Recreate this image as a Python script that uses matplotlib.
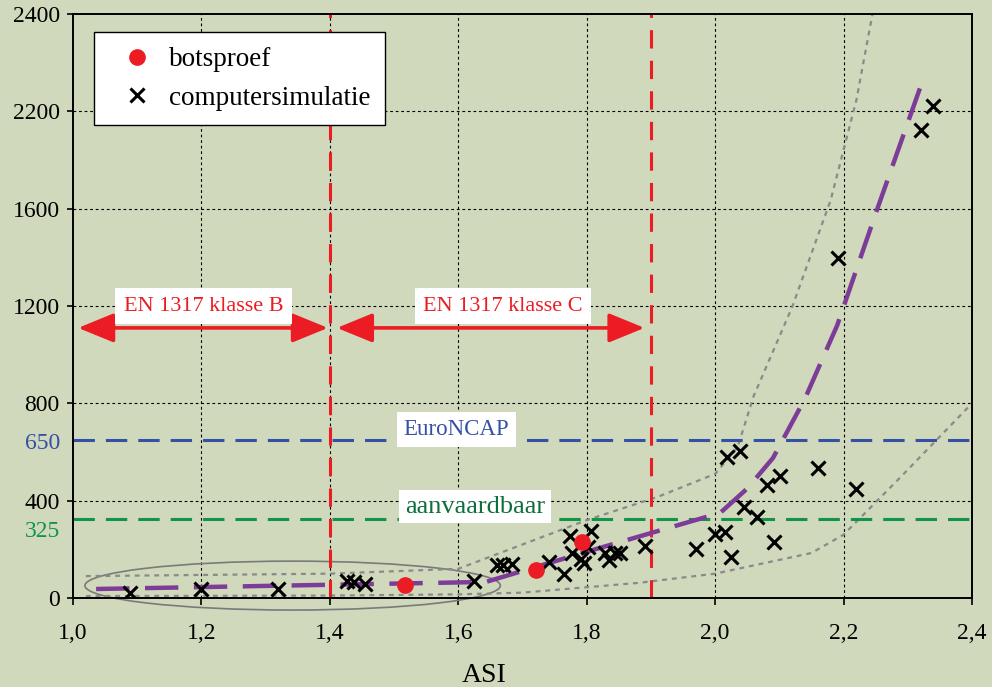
import matplotlib
matplotlib.use("Agg")
import matplotlib.pyplot as plt
from matplotlib.patches import Ellipse

# computersimulatie (crosses)
sim_x = [1.089, 1.199, 1.319, 1.426, 1.438, 1.455, 1.624, 1.660, 1.670, 1.684,
         1.742, 1.764, 1.774, 1.777, 1.791, 1.795, 1.802, 1.807, 1.829, 1.834,
         1.844, 1.852, 1.890, 1.970, 2.000, 2.016, 2.024, 2.019, 2.039, 2.045,
         2.065, 2.081, 2.101, 2.091, 2.160, 2.219, 2.192, 2.321, 2.340]
sim_y = [21, 37, 37, 70, 66, 58, 70, 136, 136, 140,
         148, 99, 255, 185, 160, 144, 210, 275, 185, 156,
         185, 185, 214, 201, 263, 271, 169, 580, 604, 374,
         333, 464, 501, 230, 534, 448, 1397, 1923, 2022]

# botsproef (red dots)
bot_x = [1.517, 1.721, 1.793]
bot_y = [53, 115, 230]

# trend line (purple dashed)
trend_x = [1.036, 1.643, 1.80, 2.008, 2.05, 2.09, 2.14, 2.19, 2.25, 2.325]
trend_y = [37, 66, 190, 350, 450, 575, 820, 1120, 1580, 2140]

# spread envelope (gray dotted)
upper_x = [1.02, 1.40, 1.60, 1.80, 1.91, 2.00, 2.035, 2.06, 2.12, 2.18, 2.22, 2.245]
upper_y = [90, 100, 120, 320, 415, 510, 620, 830, 1196, 1636, 2047, 2400]
lower_x = [1.02, 1.40, 1.60, 1.70, 1.88, 2.00, 2.15, 2.20, 2.29, 2.40]
lower_y = [8, 10, 15, 22, 62, 100, 185, 260, 500, 800]

x_ticks = [1.0, 1.2, 1.4, 1.6, 1.8, 2.0, 2.2, 2.4]
x_labels = ['1,0', '1,2', '1,4', '1,6', '1,8', '2,0', '2,2', '2,4']
y_ticks = [0, 400, 800, 1200, 1600, 2000, 2400]
y_labels = ['0', '400', '800', '1200', '1600', '2200', '2400']

klasse_limits = [1.4, 1.9]
euroncap = 650
aanvaardbaar = 325

bg = '#d0d9bb'
red = '#ec1c24'
blue = '#3551a4'
green = '#119449'
purple = '#7d3c98'
gray = '#8a8a8a'

plt.rcParams['font.family'] = ['Liberation Serif', 'DejaVu Serif']

fig = plt.figure(figsize=(9.92, 6.87), dpi=100)
fig.patch.set_facecolor(bg)
ax = fig.add_axes([73 / 992, 89 / 687, 899 / 992, 584 / 687])
ax.set_facecolor(bg)

ax.set_xlim(1.0, 2.4)
ax.set_ylim(0, 2400)

# grid
for gx in x_ticks[1:-1]:
    ax.axvline(gx, color='black', lw=0.8, ls=(0, (2.5, 2.5)), zorder=1)
for gy in y_ticks[1:-1]:
    ax.axhline(gy, color='black', lw=0.8, ls=(0, (2.5, 2.5)), zorder=1)

# ellipse around low-ASI region
ell = Ellipse((1.342, 51), 0.647, 201, fill=False, edgecolor='#7a7a7a',
              lw=1.2, zorder=2, clip_on=False)
ax.add_patch(ell)

ax.plot(upper_x, upper_y, color=gray, lw=1.6, ls=(0, (2.2, 2.2)), zorder=2)
ax.plot(lower_x, lower_y, color=gray, lw=1.6, ls=(0, (2.2, 2.2)), zorder=2)

# limit lines
ax.axhline(euroncap, color=blue, lw=2.2, dashes=(7, 3.6), zorder=3)
ax.axhline(aanvaardbaar, color=green, lw=2.2, dashes=(7, 3.6), zorder=3)
for lx in klasse_limits:
    ax.axvline(lx, color=red, lw=2.2, dashes=(6, 4), zorder=3)

ax.plot(trend_x, trend_y, color=purple, lw=3.2, dashes=(7.5, 3.5), zorder=4)

ax.plot(sim_x, sim_y, ls='none', marker='x', ms=10, mew=2.2, color='black',
        zorder=5, label='computersimulatie')
ax.plot(bot_x, bot_y, ls='none', marker='o', ms=11, color=red, mec=red,
        zorder=6, label='botsproef')

# klasse arrows
arrow_kw = dict(arrowstyle='<|-|>,head_length=1.1,head_width=0.45',
                color=red, lw=2.6, mutation_scale=20, shrinkA=0, shrinkB=0)
ax.annotate('', xy=(1.008, 1110), xytext=(1.397, 1110), arrowprops=arrow_kw, zorder=6)
ax.annotate('', xy=(1.411, 1110), xytext=(1.890, 1110), arrowprops=arrow_kw, zorder=6)

box_kw = dict(facecolor='white', edgecolor='none', pad=6)
ax.text(1.203, 1200, 'EN 1317 klasse B', color=red, fontsize=16,
        ha='center', va='center', bbox=box_kw, zorder=7)
ax.text(1.67, 1200, 'EN 1317 klasse C', color=red, fontsize=16,
        ha='center', va='center', bbox=box_kw, zorder=7)
ax.text(1.597, 692, 'EuroNCAP', color=blue, fontsize=16.5,
        ha='center', va='center', bbox=dict(facecolor='white', edgecolor='none', pad=5), zorder=7)
ax.text(1.626, 376, 'aanvaardbaar', color='#0e6e3e', fontsize=19,
        ha='center', va='center', bbox=dict(facecolor='white', edgecolor='none', pad=4), zorder=7)

# extra y labels
ax.text(-0.0145, 635, '650', color=blue, fontsize=17, ha='right', va='center',
        transform=ax.get_yaxis_transform())
ax.text(-0.0145, 275, '325', color=green, fontsize=17, ha='right', va='center',
        transform=ax.get_yaxis_transform())

ax.set_xticks(x_ticks)
ax.set_xticklabels(x_labels)
ax.set_yticks(y_ticks)
ax.set_yticklabels(y_labels)
ax.tick_params(axis='y', length=4.5, width=1.2, pad=5, labelsize=17)
ax.tick_params(axis='x', length=5, width=1.2, pad=13, labelsize=17)
for s in ax.spines.values():
    s.set_linewidth(1.4)
    s.set_zorder(8)

ax.set_xlabel('ASI', fontsize=20)
ax.xaxis.set_label_coords(0.457, -0.112)

handles, labels = ax.get_legend_handles_labels()
leg = ax.legend(handles[::-1], labels[::-1], loc='upper left',
                bbox_to_anchor=(0.0234, 0.969), fontsize=19.5, frameon=True,
                fancybox=False, framealpha=1, edgecolor='black',
                borderpad=0.55, handletextpad=0.1, labelspacing=0.5,
                handlelength=2.1, borderaxespad=0)
leg.get_frame().set_linewidth(1.0)
leg.set_zorder(10)

fig.savefig('out.png', dpi=100, facecolor=bg)
